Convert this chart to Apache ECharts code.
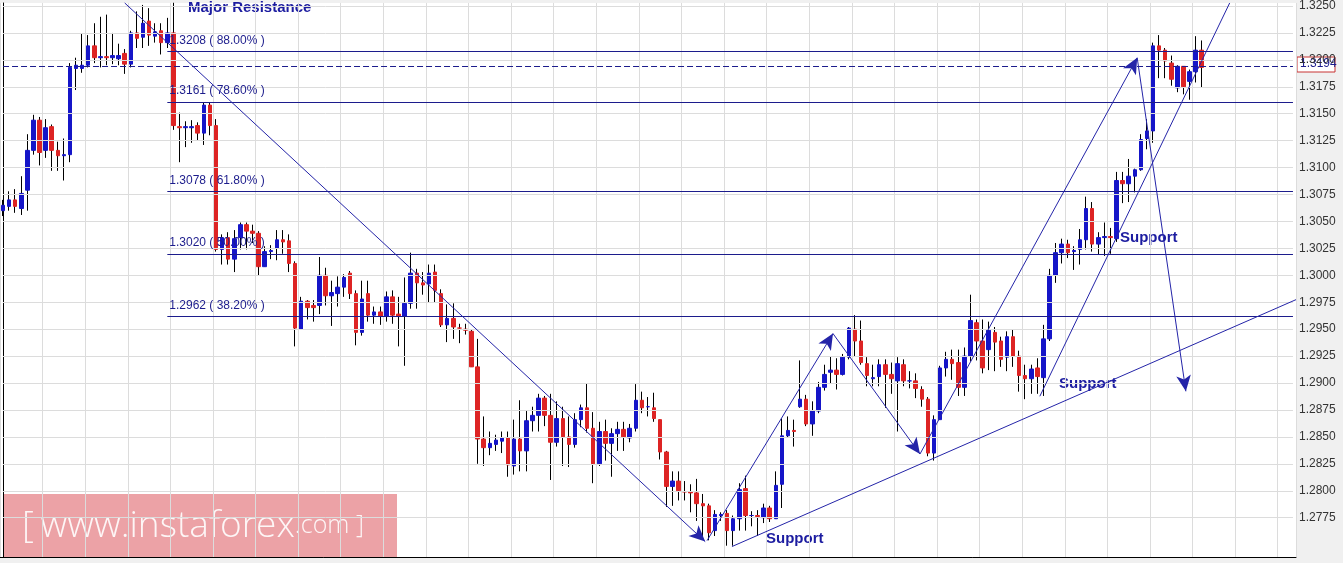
<!DOCTYPE html>
<html><head><meta charset="utf-8">
<script src="https://cdn.jsdelivr.net/npm/echarts@6/dist/echarts.min.js"></script>
<style>html,body{margin:0;padding:0;background:#f0f0f0;}#c{width:1343px;height:563px;}</style>
</head><body><div id="c"></div>
<script>
// candles: [open, close, low, high]
const candles = [
[1.3060,1.3065,1.3055,1.3070],[1.3064,1.3070,1.3060,1.3078],[1.3070,1.3064,1.3058,1.3080],[1.3062,1.3076,1.3056,1.3092],
[1.3079,1.3116,1.3060,1.3131],[1.3116,1.3144,1.3112,1.3149],[1.3144,1.3114,1.3102,1.3147],[1.3116,1.3137,1.3109,1.3145],
[1.3138,1.3116,1.3097,1.3140],[1.3116,1.3111,1.3097,1.3124],[1.3111,1.3112,1.3088,1.3127],[1.3112,1.3193,1.3105,1.3197],
[1.3192,1.3195,1.3172,1.3202],[1.3192,1.3195,1.3188,1.3224],[1.3195,1.3213,1.3193,1.3223],[1.3213,1.3202,1.3197,1.3234],
[1.3202,1.3203,1.3193,1.3240],[1.3203,1.3202,1.3195,1.3242],[1.3202,1.3204,1.3196,1.3225],[1.3201,1.3204,1.3195,1.3215],
[1.3206,1.3196,1.3187,1.3210],[1.3196,1.3225,1.3193,1.3227],[1.3225,1.3220,1.3211,1.3245],[1.3221,1.3234,1.3211,1.3251],
[1.3236,1.3223,1.3213,1.3248],[1.3222,1.3226,1.3216,1.3234],[1.3227,1.3216,1.3205,1.3234],[1.3216,1.3225,1.3211,1.3239],
[1.3225,1.3139,1.3135,1.3253],[1.3138,1.3137,1.3105,1.3151],[1.3137,1.3138,1.3119,1.3143],[1.3137,1.3138,1.3123,1.3144],
[1.3139,1.3132,1.3125,1.3142],[1.3132,1.3158,1.3121,1.3160],[1.3158,1.3139,1.3130,1.3160],[1.3139,1.3024,1.3022,1.3145],
[1.3024,1.3035,1.3010,1.3038],[1.3035,1.3015,1.3010,1.3040],[1.3015,1.3034,1.3003,1.3042],[1.3035,1.3047,1.3024,1.3049],
[1.3047,1.3041,1.3024,1.3049],[1.3041,1.3039,1.3030,1.3047],[1.3039,1.3008,1.3000,1.3041],[1.3008,1.3022,1.3008,1.3027],
[1.3022,1.3023,1.3015,1.3028],[1.3025,1.3033,1.3014,1.3042],[1.3033,1.3031,1.3020,1.3042],[1.3032,1.3011,1.3003,1.3038],
[1.3011,1.2951,1.2934,1.3013],[1.2950,1.2976,1.2950,1.2980],[1.2976,1.2970,1.2959,1.2977],[1.2972,1.2970,1.2957,1.2977],
[1.2972,1.3000,1.2964,1.3017],[1.3000,1.2981,1.2972,1.3007],[1.2981,1.2984,1.2953,1.2995],[1.2983,1.2989,1.2971,1.2999],
[1.2989,1.2998,1.2980,1.3001],[1.3002,1.2983,1.2978,1.3004],[1.2983,1.2947,1.2935,1.2986],[1.2947,1.2978,1.2944,1.2995],
[1.2983,1.2963,1.2957,1.2995],[1.2963,1.2966,1.2955,1.2971],[1.2966,1.2962,1.2954,1.2971],[1.2962,1.2980,1.2957,1.2985],
[1.2980,1.2963,1.2955,1.2986],[1.2964,1.2962,1.2934,1.2980],[1.2962,1.2974,1.2916,1.2998],[1.2974,1.3002,1.2969,1.3021],
[1.3002,1.2993,1.2969,1.3006],[1.2993,1.2991,1.2982,1.3003],[1.2992,1.3002,1.2975,1.3010],[1.3003,1.2986,1.2975,1.3010],
[1.2983,1.2954,1.2952,1.2987],[1.2954,1.2960,1.2938,1.2973],[1.2960,1.2952,1.2941,1.2974],[1.2951,1.2951,1.2937,1.2955],
[1.2950,1.2949,1.2945,1.2955],[1.2948,1.2915,1.2915,1.2950],[1.2915,1.2848,1.2825,1.2941],[1.2848,1.2840,1.2823,1.2869],
[1.2840,1.2844,1.2833,1.2855],[1.2843,1.2847,1.2837,1.2852],[1.2846,1.2849,1.2835,1.2855],[1.2849,1.2824,1.2813,1.2855],
[1.2823,1.2848,1.2815,1.2866],[1.2848,1.2837,1.2818,1.2884],[1.2837,1.2865,1.2818,1.2874],[1.2865,1.2870,1.2855,1.2878],
[1.2870,1.2886,1.2855,1.2890],[1.2886,1.2870,1.2860,1.2888],[1.2870,1.2845,1.2810,1.2890],[1.2845,1.2867,1.2841,1.2883],
[1.2867,1.2850,1.2823,1.2878],[1.2850,1.2843,1.2822,1.2869],[1.2843,1.2866,1.2840,1.2872],[1.2866,1.2877,1.2859,1.2880],
[1.2877,1.2858,1.2854,1.2900],[1.2858,1.2825,1.2807,1.2873],[1.2825,1.2855,1.2823,1.2864],[1.2855,1.2844,1.2828,1.2866],
[1.2844,1.2853,1.2813,1.2858],[1.2853,1.2857,1.2837,1.2864],[1.2857,1.2850,1.2837,1.2864],[1.2849,1.2858,1.2845,1.2862],
[1.2858,1.2884,1.2855,1.2899],[1.2884,1.2877,1.2872,1.2892],[1.2878,1.2878,1.2869,1.2887],[1.2877,1.2867,1.2864,1.2891],
[1.2866,1.2836,1.2829,1.2866],[1.2836,1.2804,1.2785,1.2837],[1.2804,1.2809,1.2786,1.2818],[1.2809,1.2800,1.2791,1.2818],
[1.2799,1.2799,1.2791,1.2809],[1.2799,1.2798,1.2780,1.2806],[1.2798,1.2788,1.2772,1.2811],[1.2788,1.2786,1.2758,1.2797],
[1.2786,1.2761,1.2754,1.2788],[1.2763,1.2778,1.2758,1.2782],[1.2777,1.2778,1.2772,1.2780],[1.2779,1.2763,1.2749,1.2782],
[1.2763,1.2774,1.2749,1.2777],[1.2774,1.2801,1.2763,1.2807],[1.2802,1.2777,1.2763,1.2814],[1.2777,1.2777,1.2767,1.2781],
[1.2777,1.2776,1.2758,1.2782],[1.2775,1.2784,1.2770,1.2788],[1.2784,1.2774,1.2771,1.2786],[1.2774,1.2805,1.2774,1.2818],
[1.2806,1.2851,1.2784,1.2867],[1.2851,1.2856,1.2849,1.2869],[1.2856,1.2855,1.2841,1.2866],[1.2878,1.2885,1.2877,1.2921],
[1.2885,1.2862,1.2860,1.2889],[1.2862,1.2874,1.2851,1.2883],[1.2874,1.2896,1.2872,1.2901],[1.2896,1.2908,1.2893,1.2917],
[1.2910,1.2912,1.2900,1.2925],[1.2912,1.2908,1.2894,1.2923],[1.2908,1.2924,1.2907,1.2927],[1.2924,1.2951,1.2922,1.2952],
[1.2950,1.2939,1.2925,1.2963],[1.2939,1.2919,1.2917,1.2958],[1.2918,1.2907,1.2897,1.2924],[1.2904,1.2905,1.2897,1.2917],
[1.2906,1.2917,1.2897,1.2922],[1.2917,1.2908,1.2877,1.2922],[1.2908,1.2904,1.2890,1.2919],[1.2902,1.2918,1.2855,1.2924],
[1.2917,1.2902,1.2897,1.2922],[1.2902,1.2902,1.2895,1.2911],[1.2902,1.2895,1.2886,1.2909],[1.2894,1.2885,1.2878,1.2897],
[1.2885,1.2835,1.2832,1.2887],[1.2835,1.2866,1.2828,1.2870],[1.2866,1.2914,1.2866,1.2916],[1.2914,1.2922,1.2906,1.2929],
[1.2922,1.2918,1.2903,1.2931],[1.2919,1.2896,1.2888,1.2931],[1.2896,1.2925,1.2888,1.2933],[1.2925,1.2958,1.2920,1.2982],
[1.2956,1.2939,1.2921,1.2959],[1.2939,1.2914,1.2909,1.2959],[1.2931,1.2949,1.2912,1.2957],[1.2947,1.2938,1.2911,1.2952],
[1.2939,1.2922,1.2915,1.2943],[1.2924,1.2943,1.2911,1.2948],[1.2943,1.2925,1.2915,1.2950],[1.2925,1.2907,1.2892,1.2930],
[1.2907,1.2904,1.2885,1.2917],[1.2904,1.2913,1.2890,1.2917],[1.2914,1.2906,1.2890,1.2923],[1.2905,1.2941,1.2888,1.2954],
[1.2941,1.3000,1.2939,1.3006],[1.3000,1.3021,1.2993,1.3030],[1.3021,1.3029,1.3011,1.3034],[1.3029,1.3021,1.3016,1.3033],
[1.3022,1.3023,1.3005,1.3027],[1.3024,1.3033,1.3010,1.3043],[1.3033,1.3062,1.3024,1.3073],[1.3062,1.3029,1.3022,1.3068],
[1.3029,1.3035,1.3019,1.3040],[1.3035,1.3036,1.3018,1.3049],[1.3036,1.3035,1.3020,1.3044],[1.3034,1.3088,1.3031,1.3096],
[1.3088,1.3085,1.3067,1.3096],[1.3085,1.3092,1.3068,1.3108],[1.3092,1.3098,1.3077,1.3099],[1.3098,1.3126,1.3097,1.3131],
[1.3127,1.3134,1.3117,1.3145],[1.3134,1.3213,1.3123,1.3216],[1.3213,1.3209,1.3183,1.3223],[1.3209,1.3199,1.3183,1.3211],
[1.3197,1.3182,1.3176,1.3204],[1.3174,1.3194,1.3170,1.3195],[1.3194,1.3175,1.3168,1.3194],[1.3180,1.3189,1.3163,1.3191],
[1.3189,1.3209,1.3179,1.3222],[1.3209,1.3193,1.3174,1.3218]
];
const slotCount = 213;
const yTicks = [1.2775,1.2800,1.2825,1.2850,1.2875,1.2900,1.2925,1.2950,1.2975,1.3000,1.3025,1.3050,1.3075,1.3100,1.3125,1.3150,1.3175,1.3200,1.3225,1.3250];
const yMin = 1.27385, yMax = 1.32528;
const fibLevels = [1.3208, 1.3161, 1.3078, 1.3020, 1.2962];
const fibLabels = ['1.3208 ( 88.00% )','1.3161 ( 78.60% )','1.3078 ( 61.80% )','1.3020 ( 50.00% )','1.2962 ( 38.20% )'];
const fibStart = 27;
const currentPrice = 1.3194;
// trend lines [x1(candle index), y1, x2, y2, arrow]
const trendLines = [
 [20.0,1.32528,115.4,1.27528,true],
 [119.8,1.27482,212.5,1.29774,false],
 [115.7,1.27537,136.4,1.29459,true],
 [136.4,1.29459,150.7,1.28341,true],
 [150.7,1.28341,186.4,1.32019,true],
 [186.4,1.32019,194.4,1.28923,true],
 [170.4,1.28877,201.6,1.32528,false]
];
const notes = [
 {text:'Major Resistance', x:188, y:0},
 {text:'Support', x:766, y:531},
 {text:'Support', x:1120, y:230},
 {text:'Support', x:1059, y:376}
];

const cats = Array.from({length: slotCount}, (_, i) => String(i));
const wick = cats.map((_, i) => candles[i] ? candles[i] : '-');
const body = cats.map((_, i) => {
  const c = candles[i]; if (!c) return '-';
  return [c[0], c[1], Math.min(c[0], c[1]), Math.max(c[0], c[1])];
});
const navy = '#1c1c8c';
const chart = echarts.init(document.getElementById('c'));
chart.setOption({
  animation: false,
  backgroundColor: '#f0f0f0',
  grid: {left: 0, right: 47, top: 0, bottom: 6, show: true, backgroundColor: '#ffffff', borderWidth: 0},
  xAxis: [
    {type: 'category', data: cats, boundaryGap: true, axisLine: {show: true, onZero: false, lineStyle: {color: '#000'}}, axisTick: {show: false}, axisLabel: {show: false},
     splitLine: {show: true, interval: 6, lineStyle: {color: '#dcdcdc', width: 1}}},
    {type: 'value', min: -0.5, max: slotCount - 0.5, show: false}
  ],
  yAxis: {type: 'value', position: 'right', min: yMin, max: yMax,
    axisLine: {show: true, lineStyle: {color: '#000'}},
    axisTick: {show: true, length: 4, customValues: yTicks, lineStyle: {color: '#333'}},
    axisLabel: {color: '#333', fontFamily: 'Liberation Sans', fontSize: 12, margin: 3, customValues: yTicks, formatter: v => v.toFixed(4)},
    splitLine: {show: false}},
  series: [
    {type: 'candlestick', data: wick, barWidth: 1.2,
     itemStyle: {color: '#000', color0: '#000', borderColor: '#000', borderColor0: '#000', borderWidth: 1},
     markLine: {silent: true, symbol: ['none', 'none'], data: yTicks.map(v => [
       {coord: ['0', v], lineStyle: {color: '#dcdcdc', width: 1, type: 'solid'}, label: {show: false}},
       {coord: [String(slotCount - 1), v]}])}},
    {type: 'candlestick', data: body, barWidth: 4,
     itemStyle: {color: '#1515c8', color0: '#dd2424', borderColor: '#1515c8', borderColor0: '#dd2424', borderWidth: 1},
     markLine: {silent: true, symbol: ['none', 'none'],
       data: fibLevels.map((v, i) => [
         {coord: [String(fibStart), v], lineStyle: {color: navy, width: 1.2, type: 'solid'},
          label: {show: true, position: 'insideStartTop', formatter: fibLabels[i], color: navy, fontSize: 12, fontFamily: 'Liberation Sans', distance: [2, 5]}},
         {coord: [String(slotCount - 1), v]}
       ]).concat([
         [{coord: ['0', currentPrice], lineStyle: {color: navy, width: 1, type: [6, 3]}, label: {show: false}},
          {coord: [String(slotCount - 1), currentPrice]}]
       ])}},
    {type: 'line', xAxisIndex: 1, data: [], markLine: {silent: true, animation: false,
       data: trendLines.map(t => [
         {coord: [t[0], t[1]], symbol: 'none', lineStyle: {color: '#2424a8', width: 1, type: 'solid'}, label: {show: false}},
         {coord: [t[2], t[3]], symbol: t[4] ? 'arrow' : 'none', symbolSize: [11, 16]}
       ]), itemStyle: {color: '#1a1ad8'}}}
  ],
  graphic: [
    {type: 'rect', shape: {x: 1297, y: 57, width: 38, height: 15}, style: {fill: '#fff', stroke: '#c83232', lineWidth: 1}},
    {type: 'text', x: 1300, y: 58, style: {text: '1.3194', fill: '#1c1c8c', font: '12px "Liberation Sans"'}},
    ...notes.map(n => ({type: 'text', x: n.x, y: n.y, style: {text: n.text, fill: '#1c1ca0', font: 'bold 15px "Liberation Sans"'}})),
    {type: 'rect', shape: {x: 4, y: 494, width: 393, height: 64}, style: {fill: 'rgba(218,70,78,0.5)'}},
    {type: 'text', x: 22, y: 526, style: {
      text: '{a|[}  {b|www.instaforex}{c|.com ]}', verticalAlign: 'middle',
      rich: {a: {fill: 'rgba(255,255,255,0.9)', font: '300 37px "Open Sans"'},
             b: {fill: 'rgba(255,255,255,0.9)', font: '300 37px "Open Sans"'},
             c: {fill: 'rgba(255,255,255,0.9)', font: '300 25px "Open Sans"'}}}}
  ]
});
</script></body></html>
